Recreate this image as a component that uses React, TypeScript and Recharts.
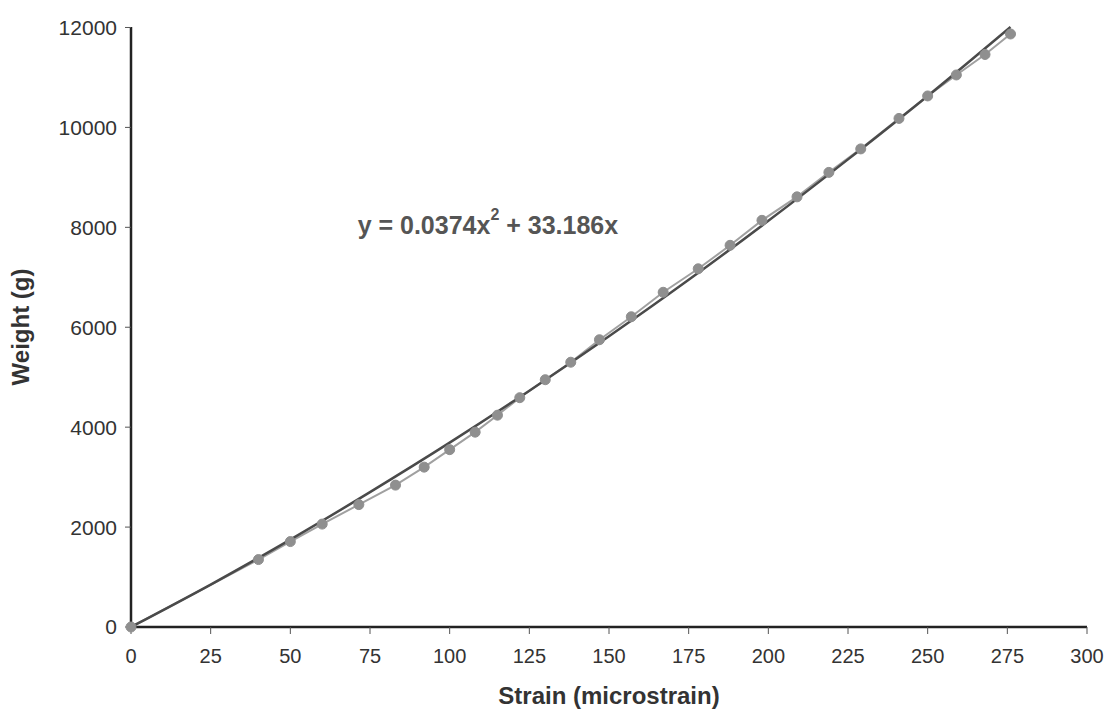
import React from 'react';
import {
  LineChart,
  Line,
  XAxis,
  YAxis,
  ReferenceDot,
} from 'recharts';

// measured points (strain in microstrain, weight in g)
const strain = [
  0, 40, 50, 60, 71.5, 83, 92, 100, 108, 115, 122, 130, 138, 147, 157, 167, 178, 188, 198, 209, 219,
  229, 241, 250, 259, 268, 276,
];
const weight = [
  0, 1350, 1710, 2060, 2450, 2840, 3200, 3550, 3900, 4240, 4590, 4950, 5300, 5750, 6210, 6700, 7170,
  7640, 8140, 8610, 9100, 9570, 10180, 10630, 11050, 11460, 11870,
];

// polynomial trendline
const trendStrain = [0, 25, 50, 75, 100, 125, 150, 175, 200, 225, 250, 276];
const trendWeight = [0, 850, 1750, 2700, 3690, 4730, 5820, 6950, 8130, 9360, 10630, 12010];

const xTicks = [0, 25, 50, 75, 100, 125, 150, 175, 200, 225, 250, 275, 300];
const yTicks = [0, 2000, 4000, 6000, 8000, 10000, 12000];

const measured = strain.map((x, i) => ({ x, y: weight[i] }));
const trend = trendStrain.map((x, i) => ({ x, y: trendWeight[i] }));

const font = '"Liberation Sans", Arial, sans-serif';

const EquationLabel = (props: any) => {
  const { viewBox } = props;
  return (
    <text
      x={viewBox.x}
      y={viewBox.y}
      textAnchor="middle"
      dominantBaseline="middle"
      fontFamily={font}
      fontWeight="bold"
      fontSize={25}
      fill="#555"
    >
      y = 0.0374x
      <tspan dy={-11} fontSize={16}>2</tspan>
      <tspan dy={11}> + 33.186x</tspan>
    </text>
  );
};

const YTitle = (props: any) => {
  const { viewBox } = props;
  const cy = viewBox.y + viewBox.height / 2;
  return (
    <text
      x={23}
      y={cy}
      transform={`rotate(-90, 23, ${cy})`}
      textAnchor="middle"
      dominantBaseline="middle"
      fontFamily={font}
      fontWeight="bold"
      fontSize={24}
      fill="#333"
    >
      Weight (g)
    </text>
  );
};

export default function App() {
  return (
    <div style={{ position: 'absolute', left: 0, top: 0, background: '#fff' }}>
      <LineChart
        width={1105}
        height={713}
        margin={{ top: 27, right: 18, left: 0, bottom: 0 }}
      >
        {/* box around plot area */}
        <XAxis
          xAxisId="top"
          orientation="top"
          type="number"
          dataKey="x"
          domain={[0, 300]}
          ticks={xTicks}
          tick={false}
          tickLine={false}
          height={0}
          axisLine={{ stroke: '#222', strokeWidth: 2 }}
        />
        <YAxis
          yAxisId="right"
          orientation="right"
          type="number"
          domain={[0, 12000]}
          tick={false}
          tickLine={false}
          width={0}
          axisLine={{ stroke: '#222', strokeWidth: 2 }}
        />
        <XAxis
          type="number"
          dataKey="x"
          domain={[0, 300]}
          ticks={xTicks}
          interval={0}
          height={86}
          tickSize={7}
          tickMargin={15}
          axisLine={{ stroke: '#222', strokeWidth: 2.5 }}
          tickLine={{ stroke: '#555' }}
          tick={{ fill: '#333', fontSize: 20, fontFamily: font }}
          label={{
            value: 'Strain (microstrain)',
            position: 'insideBottom',
            offset: 9,
            fill: '#333',
            fontSize: 24,
            fontWeight: 'bold',
            fontFamily: font,
          }}
        />
        <YAxis
          type="number"
          dataKey="y"
          domain={[0, 12000]}
          ticks={yTicks}
          interval={0}
          width={131}
          tickSize={6}
          tickMargin={8}
          axisLine={{ stroke: '#222', strokeWidth: 2.5 }}
          tickLine={{ stroke: '#555' }}
          tick={{ fill: '#333', fontSize: 21, fontFamily: font }}
          label={<YTitle />}
        />
        <Line
          data={measured}
          dataKey="y"
          type="linear"
          stroke="#a0a0a0"
          strokeWidth={2}
          dot={{ r: 5, fill: '#8f8f8f', stroke: '#8f8f8f', strokeWidth: 1 }}
          isAnimationActive={false}
        />
        <Line
          data={trend}
          dataKey="y"
          type="monotone"
          stroke="#4a4a4a"
          strokeWidth={2.5}
          dot={false}
          isAnimationActive={false}
        />
        <ReferenceDot x={112} y={8000} r={0} label={<EquationLabel />} />
      </LineChart>
    </div>
  );
}
